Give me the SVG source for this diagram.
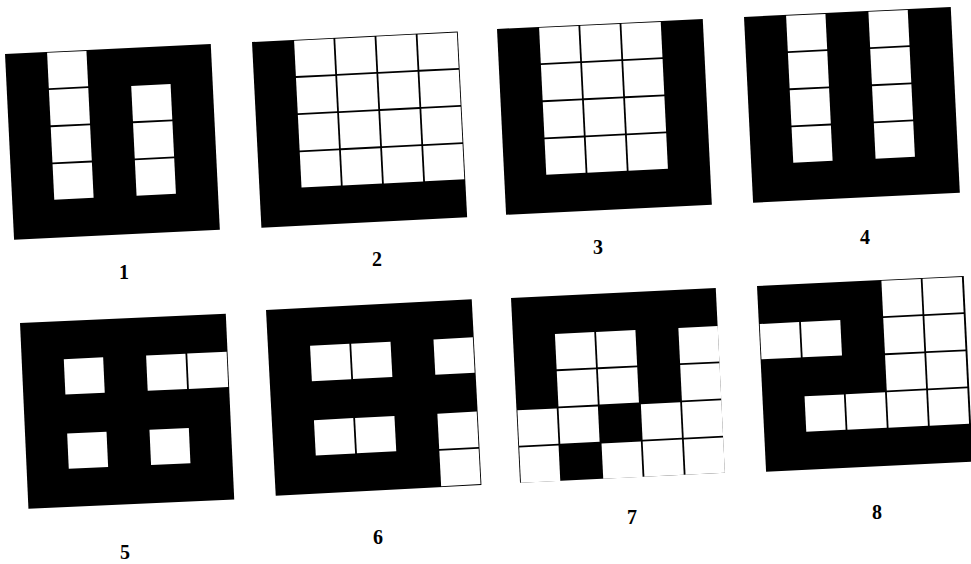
<svg xmlns="http://www.w3.org/2000/svg" xmlns:xlink="http://www.w3.org/1999/xlink" width="971" height="564" viewBox="0 0 971 564">
<style>
.bg{fill:#000}
.lbl{font-family:"Liberation Serif","Times New Roman",serif;font-size:20px;font-weight:bold;fill:#000;text-anchor:middle}
</style>
<defs>
<rect id="c" width="39.4" height="35.4" fill="#fff"/>
</defs>
<rect width="971" height="564" fill="#fff"/>
<g id="panel1">
<g transform="translate(5,54) rotate(-2.8)">
<rect class="bg" width="206" height="186"/>
<use href="#c" x="42.1" y="0.9"/><use href="#c" x="42.1" y="38.1"/><use href="#c" x="42.1" y="75.3"/><use href="#c" x="42.1" y="112.5"/>
<use href="#c" x="124.5" y="38.1"/><use href="#c" x="124.5" y="75.3"/><use href="#c" x="124.5" y="112.5"/>
</g>
<text class="lbl" x="124" y="279">1</text>
</g>
<g id="panel2">
<g transform="translate(252,42) rotate(-2.9)">
<rect class="bg" width="206" height="186"/>
<use href="#c" x="42.1" y="0.9"/><use href="#c" x="83.3" y="0.9"/><use href="#c" x="124.5" y="0.9"/><use href="#c" x="165.7" y="0.9"/>
<use href="#c" x="42.1" y="38.1"/><use href="#c" x="83.3" y="38.1"/><use href="#c" x="124.5" y="38.1"/><use href="#c" x="165.7" y="38.1"/>
<use href="#c" x="42.1" y="75.3"/><use href="#c" x="83.3" y="75.3"/><use href="#c" x="124.5" y="75.3"/><use href="#c" x="165.7" y="75.3"/>
<use href="#c" x="42.1" y="112.5"/><use href="#c" x="83.3" y="112.5"/><use href="#c" x="124.5" y="112.5"/><use href="#c" x="165.7" y="112.5"/>
</g>
<text class="lbl" x="377" y="266">2</text>
</g>
<g id="panel3">
<g transform="translate(497,29) rotate(-2.8)">
<rect class="bg" width="206" height="186"/>
<use href="#c" x="42.1" y="0.9"/><use href="#c" x="83.3" y="0.9"/><use href="#c" x="124.5" y="0.9"/>
<use href="#c" x="42.1" y="38.1"/><use href="#c" x="83.3" y="38.1"/><use href="#c" x="124.5" y="38.1"/>
<use href="#c" x="42.1" y="75.3"/><use href="#c" x="83.3" y="75.3"/><use href="#c" x="124.5" y="75.3"/>
<use href="#c" x="42.1" y="112.5"/><use href="#c" x="83.3" y="112.5"/><use href="#c" x="124.5" y="112.5"/>
</g>
<text class="lbl" x="598" y="254">3</text>
</g>
<g id="panel4">
<g transform="translate(744,17) rotate(-2.8)">
<rect class="bg" width="207" height="186"/>
<use href="#c" x="42.1" y="0.9"/><use href="#c" x="42.1" y="38.1"/><use href="#c" x="42.1" y="75.3"/><use href="#c" x="42.1" y="112.5"/>
<use href="#c" x="124.5" y="0.9"/><use href="#c" x="124.5" y="38.1"/><use href="#c" x="124.5" y="75.3"/><use href="#c" x="124.5" y="112.5"/>
</g>
<text class="lbl" x="865" y="244">4</text>
</g>
<g id="panel5">
<g transform="translate(20,323) rotate(-2.6)">
<rect class="bg" width="206" height="186"/>
<use href="#c" x="42.1" y="38.1"/><use href="#c" x="124.5" y="38.1"/><use href="#c" x="165.7" y="38.1"/>
<use href="#c" x="42.1" y="112.5"/><use href="#c" x="124.5" y="112.5"/>
</g>
<text class="lbl" x="125" y="559">5</text>
</g>
<g id="panel6">
<g transform="translate(266,310) rotate(-3)">
<rect class="bg" width="206" height="186"/>
<use href="#c" x="42.1" y="38.1"/><use href="#c" x="83.3" y="38.1"/><use href="#c" x="165.7" y="38.1"/>
<use href="#c" x="42.1" y="112.5"/><use href="#c" x="83.3" y="112.5"/><use href="#c" x="165.7" y="112.5"/>
<use href="#c" x="165.7" y="149.7"/>
</g>
<text class="lbl" x="378" y="544">6</text>
</g>
<g id="panel7">
<g transform="translate(511,298) rotate(-2.8)">
<rect class="bg" width="205" height="185"/>
<use href="#c" x="42.1" y="38.1"/><use href="#c" x="83.3" y="38.1"/><use href="#c" x="165.7" y="38.1"/>
<use href="#c" x="42.1" y="75.3"/><use href="#c" x="83.3" y="75.3"/><use href="#c" x="165.7" y="75.3"/>
<use href="#c" x="0.9" y="112.5"/><use href="#c" x="42.1" y="112.5"/><use href="#c" x="124.5" y="112.5"/><use href="#c" x="165.7" y="112.5"/>
<use href="#c" x="0.9" y="149.7"/><use href="#c" x="83.3" y="149.7"/><use href="#c" x="124.5" y="149.7"/><use href="#c" x="165.7" y="149.7"/>
</g>
<text class="lbl" x="632" y="524">7</text>
</g>
<g id="panel8">
<g transform="translate(757,286) rotate(-2.8)">
<rect class="bg" width="207" height="186"/>
<use href="#c" x="124.5" y="0.9"/><use href="#c" x="165.7" y="0.9"/>
<use href="#c" x="0.9" y="38.1"/><use href="#c" x="42.1" y="38.1"/><use href="#c" x="124.5" y="38.1"/><use href="#c" x="165.7" y="38.1"/>
<use href="#c" x="124.5" y="75.3"/><use href="#c" x="165.7" y="75.3"/>
<use href="#c" x="42.1" y="112.5"/><use href="#c" x="83.3" y="112.5"/><use href="#c" x="124.5" y="112.5"/><use href="#c" x="165.7" y="112.5"/>
</g>
<text class="lbl" x="877" y="519">8</text>
</g>
</svg>
